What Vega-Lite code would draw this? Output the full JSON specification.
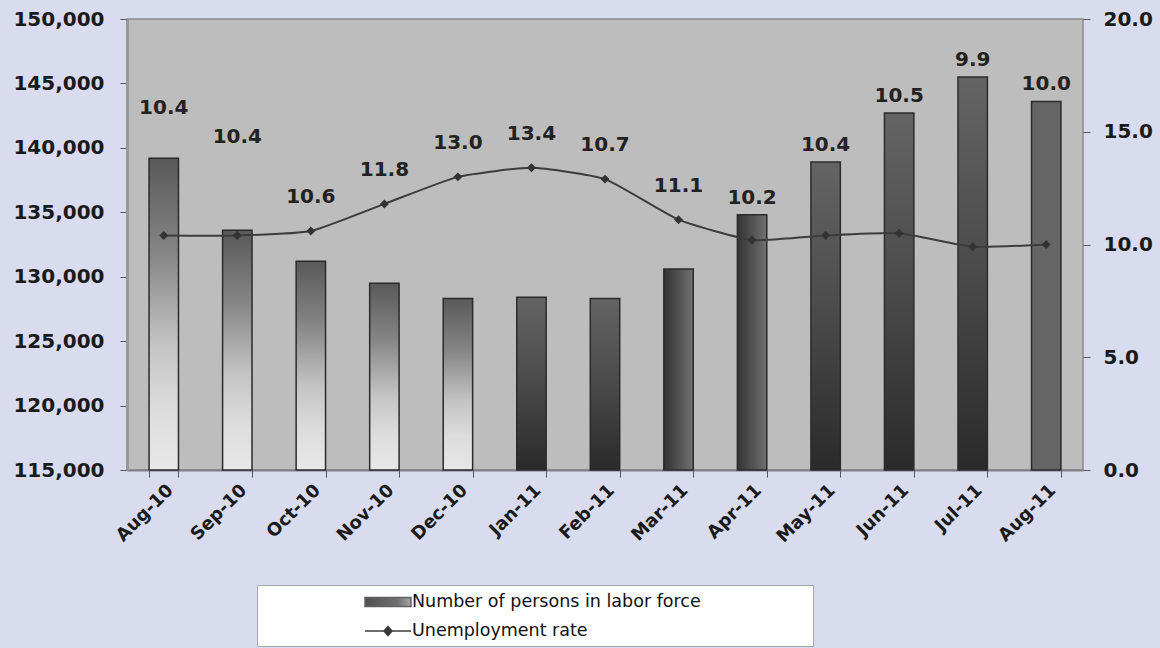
{
  "$schema": "https://vega.github.io/schema/vega-lite/v6.json",
  "width": 956,
  "height": 451,
  "autosize": {"type": "none"},
  "padding": {"left": 127, "top": 19, "right": 77, "bottom": 178},
  "background": "#d8dcee",
  "config": {
    "view": {"fill": "#bdbdbd", "stroke": "#8a8a8a", "strokeWidth": 1.5},
    "font": "DejaVu Sans",
    "axis": {"grid": false, "labelFont": "DejaVu Sans", "labelFontWeight": "bold", "labelColor": "#1a1a1a"}
  },
  "data": {
    "values": [
      {"month": "Aug-10", "labor": 139200, "rate": 10.4, "label": "10.4"},
      {"month": "Sep-10", "labor": 133600, "rate": 10.4, "label": "10.4"},
      {"month": "Oct-10", "labor": 131200, "rate": 10.6, "label": "10.6"},
      {"month": "Nov-10", "labor": 129500, "rate": 11.8, "label": "11.8"},
      {"month": "Dec-10", "labor": 128300, "rate": 13.0, "label": "13.0"},
      {"month": "Jan-11", "labor": 128400, "rate": 13.4, "label": "13.4"},
      {"month": "Feb-11", "labor": 128300, "rate": 12.9, "label": "10.7"},
      {"month": "Mar-11", "labor": 130600, "rate": 11.1, "label": "11.1"},
      {"month": "Apr-11", "labor": 134800, "rate": 10.2, "label": "10.2"},
      {"month": "May-11", "labor": 138900, "rate": 10.4, "label": "10.4"},
      {"month": "Jun-11", "labor": 142700, "rate": 10.5, "label": "10.5"},
      {"month": "Jul-11", "labor": 145500, "rate": 9.9, "label": "9.9"},
      {"month": "Aug-11", "labor": 143600, "rate": 10.0, "label": "10.0"}
    ]
  },
  "encoding": {
    "x": {
      "field": "month", "type": "nominal", "sort": null,
      "scale": {"paddingInner": 0.6, "paddingOuter": 0.3},
      "axis": {
        "title": null, "labelAngle": -45, "labelFontSize": 18, "labelPadding": 4,
        "tickBand": "extent", "tickColor": "#555555", "tickSize": 7,
        "domainColor": "#808080", "domainWidth": 2
      }
    }
  },
  "layer": [
    {
      "encoding": {
        "y": {
          "field": "labor", "type": "quantitative",
          "scale": {"domain": [115000, 150000], "nice": false, "zero": false},
          "axis": {
            "title": null, "orient": "left",
            "values": [115000, 120000, 125000, 130000, 135000, 140000, 145000, 150000],
            "format": ",d", "labelFontSize": 20, "labelPadding": 16,
            "tickSize": 7, "tickColor": "#555555",
            "domainColor": "#999999", "domainWidth": 3
          }
        }
      },
      "layer": [
        {
          "mark": {"type": "bar", "stroke": "#2b2b2b", "strokeWidth": 1.5},
          "encoding": {
            "y2": {"datum": 115000},
            "fill": {
              "condition": [
                {
                  "test": "indexof(['Aug-10','Sep-10','Oct-10','Nov-10','Dec-10'], datum.month) >= 0",
                  "value": {"gradient": "linear", "x1": 0, "y1": 0, "x2": 0, "y2": 1,
                    "stops": [
                      {"offset": 0, "color": "#595959"},
                      {"offset": 0.3, "color": "#858585"},
                      {"offset": 0.6, "color": "#c4c4c4"},
                      {"offset": 0.8, "color": "#dcdcdc"},
                      {"offset": 1, "color": "#e8e8e8"}
                    ]}
                },
                {
                  "test": "indexof(['Mar-11','Apr-11'], datum.month) >= 0",
                  "value": {"gradient": "linear", "x1": 0, "y1": 0, "x2": 1, "y2": 0,
                    "stops": [
                      {"offset": 0, "color": "#333333"},
                      {"offset": 1, "color": "#707070"}
                    ]}
                },
                {
                  "test": "datum.month === 'Aug-11'",
                  "value": "#656565"
                }
              ],
              "value": {"gradient": "linear", "x1": 0, "y1": 0, "x2": 0, "y2": 1,
                "stops": [
                  {"offset": 0, "color": "#646464"},
                  {"offset": 0.5, "color": "#4a4a4a"},
                  {"offset": 1, "color": "#2a2a2a"}
                ]}
            }
          }
        },
        {
          "transform": [{"filter": {"field": "month", "oneOf": ["Apr-11", "May-11", "Jun-11", "Jul-11", "Aug-11"]}}],
          "mark": {"type": "text", "dy": -17, "fontSize": 20, "fontWeight": "bold", "color": "#222222", "baseline": "middle"},
          "encoding": {"text": {"field": "label"}}
        },
        {
          "transform": [{"filter": {"field": "month", "equal": "Aug-10"}}],
          "mark": {"type": "text", "dy": -50, "fontSize": 20, "fontWeight": "bold", "color": "#222222", "baseline": "middle"},
          "encoding": {"text": {"field": "label"}}
        },
        {
          "transform": [{"filter": {"field": "month", "equal": "Sep-10"}}],
          "mark": {"type": "text", "dy": -93, "fontSize": 20, "fontWeight": "bold", "color": "#222222", "baseline": "middle"},
          "encoding": {"text": {"field": "label"}}
        }
      ]
    },
    {
      "encoding": {
        "y": {
          "field": "rate", "type": "quantitative",
          "scale": {"domain": [0, 20], "nice": false},
          "axis": {
            "title": null, "orient": "right", "values": [0, 5, 10, 15, 20],
            "format": ".1f", "labelFontSize": 20, "labelPadding": 13,
            "tickSize": 7, "tickColor": "#555555", "domain": false
          }
        }
      },
      "layer": [
        {
          "mark": {"type": "line", "strokeWidth": 2, "interpolate": "cardinal", "tension": 0.5},
          "encoding": {
            "color": {
              "datum": "Unemployment rate", "type": "nominal",
              "scale": {"domain": ["Number of persons in labor force", "Unemployment rate"], "range": ["#606060", "#3c3c3c"]},
              "legend": {
                "title": null, "orient": "none", "legendX": 130, "legendY": 566,
                "fillColor": "#ffffff", "strokeColor": "#a8a8a8", "padding": 6,
                "labelFont": "DejaVu Sans", "labelFontSize": 17.5, "labelColor": "#111111",
                "labelLimit": 0, "symbolSize": 400, "symbolOffset": 114, "labelOffset": 13,
                "rowPadding": 9,
                "encode": {
                  "symbols": {
                    "update": {
                      "shape": [
                        {"test": "datum.value === 'Unemployment rate'", "value": "M-2.3,0H2.3M0,-0.45L0.4,0L0,0.45L-0.4,0Z"},
                        {"value": "M-2.3,-0.45H2.3V0.45H-2.3ZM41.6,0"}
                      ],
                      "fill": [
                        {"test": "datum.value === 'Unemployment rate'", "value": "#333333"},
                        {"value": {"gradient": "linear", "x1": 0, "y1": 0, "x2": 1, "y2": 0,
                          "stops": [{"offset": 0, "color": "#505050"}, {"offset": 0.075, "color": "#707070"}, {"offset": 0.105, "color": "#a8a8a8"}, {"offset": 1, "color": "#a8a8a8"}]}}
                      ],
                      "stroke": {"value": "#333333"},
                      "strokeWidth": {"value": 1.5},
                      "opacity": {"value": 1},
                      "fillOpacity": {"value": 1},
                      "strokeOpacity": {"value": 1}
                    }
                  }
                }
              }
            }
          }
        },
        {
          "mark": {"type": "point", "shape": "diamond", "filled": true, "color": "#333333", "size": 80, "opacity": 1}
        },
        {
          "transform": [{"filter": {"field": "month", "oneOf": ["Oct-10", "Nov-10", "Dec-10", "Jan-11", "Feb-11", "Mar-11"]}}],
          "mark": {"type": "text", "dy": -34, "fontSize": 20, "fontWeight": "bold", "color": "#222222", "baseline": "middle"},
          "encoding": {"text": {"field": "label"}}
        }
      ]
    }
  ],
  "resolve": {"scale": {"y": "independent"}}
}
